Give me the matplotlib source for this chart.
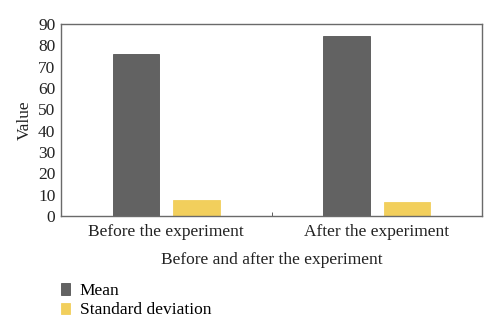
import numpy as np
import matplotlib
matplotlib.use("Agg")
import matplotlib.pyplot as plt

plt.rcParams['font.family'] = ['Liberation Serif', 'DejaVu Serif']

groups = ["Before the experiment", "After the experiment"]
series_names = ["Mean", "Standard deviation"]
mean_vals = [76.0, 84.6]
sd_vals = [7.5, 6.4]

colors = ["#626262", "#F2CF5C"]

fig = plt.figure(figsize=(5.0, 3.3), dpi=100)
ax = fig.add_axes([0.122, 0.345, 0.842, 0.582])

x = np.arange(len(groups))
w = 0.22
b1 = ax.bar(x - 0.143, mean_vals, w, color=colors[0], edgecolor="#555555", linewidth=0.6, label=series_names[0])
b2 = ax.bar(x + 0.143, sd_vals, w, color=colors[1], edgecolor=colors[1], linewidth=0.6, label=series_names[1])

ax.set_xlim(-0.5, 1.5)
ax.set_ylim(0, 90)
ax.set_yticks(np.arange(0, 91, 10))
ax.set_xticks(x)
ax.set_xticklabels(groups)
ax.set_xticks([0.5], minor=True)
ax.tick_params(axis="x", which="major", length=0, labelsize=12.5, pad=6, colors="#222222")
ax.tick_params(axis="x", which="minor", length=3, direction="in", color="#444444")
ax.tick_params(axis="y", length=0, labelsize=12.5, pad=4, colors="#222222")
for s in ax.spines.values():
    s.set_color("#6a6a6a")
    s.set_linewidth(1.0)

ax.set_ylabel("Value", fontsize=12.5, color="#222222", labelpad=4)
ax.set_xlabel("Before and after the experiment", fontsize=12.5, color="#222222", labelpad=8)

fig.legend(handles=[b1, b2], labels=series_names, loc="upper left",
           bbox_to_anchor=(0.09, 0.19), frameon=False, fontsize=12.5,
           handlelength=0.55, handleheight=0.65, handletextpad=0.55, labelspacing=0.2)

fig.savefig("out.png", dpi=100)
